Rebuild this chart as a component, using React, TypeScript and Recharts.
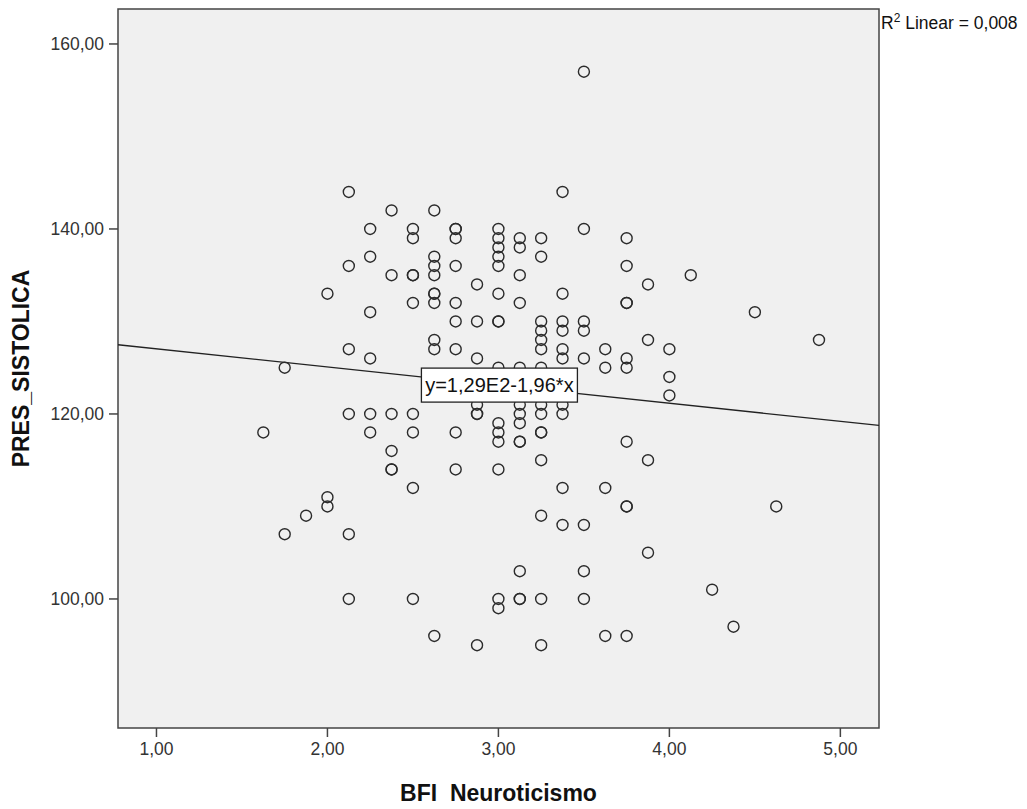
import React from "react";
import {
  ScatterChart,
  Scatter,
  XAxis,
  YAxis,
  ReferenceArea,
  ReferenceLine,
  ReferenceDot,
  Label,
} from "recharts";

// BFI neuroticism score for each respondent
const neuroticismo: number[] = [
  1.625,
  1.75, 1.75,
  1.875,
  2.0, 2.0, 2.0,
  2.125, 2.125, 2.125, 2.125, 2.125, 2.125,
  2.25, 2.25, 2.25, 2.25, 2.25, 2.25,
  2.375, 2.375, 2.375, 2.375, 2.375, 2.375,
  2.5, 2.5, 2.5, 2.5, 2.5, 2.5, 2.5, 2.5, 2.5,
  2.625, 2.625, 2.625, 2.625, 2.625, 2.625, 2.625, 2.625, 2.625, 2.625,
  2.75, 2.75, 2.75, 2.75, 2.75, 2.75, 2.75, 2.75, 2.75,
  2.875, 2.875, 2.875, 2.875, 2.875, 2.875, 2.875,
  3.0, 3.0, 3.0, 3.0, 3.0, 3.0, 3.0, 3.0, 3.0, 3.0, 3.0, 3.0, 3.0, 3.0, 3.0,
  3.125, 3.125, 3.125, 3.125, 3.125, 3.125, 3.125, 3.125, 3.125, 3.125, 3.125, 3.125, 3.125,
  3.25, 3.25, 3.25, 3.25, 3.25, 3.25, 3.25, 3.25, 3.25, 3.25, 3.25, 3.25, 3.25, 3.25, 3.25,
  3.375, 3.375, 3.375, 3.375, 3.375, 3.375, 3.375, 3.375, 3.375, 3.375,
  3.5, 3.5, 3.5, 3.5, 3.5, 3.5, 3.5, 3.5,
  3.625, 3.625, 3.625, 3.625,
  3.75, 3.75, 3.75, 3.75, 3.75, 3.75, 3.75, 3.75, 3.75, 3.75,
  3.875, 3.875, 3.875, 3.875,
  4.0, 4.0, 4.0,
  4.125,
  4.25,
  4.375,
  4.5,
  4.625,
  4.875,
];

// Systolic pressure, paired with the scores above
const presSistolica: number[] = [
  118,
  125, 107,
  109,
  133, 111, 110,
  144, 136, 127, 120, 107, 100,
  140, 137, 131, 126, 120, 118,
  142, 135, 120, 116, 114, 114,
  140, 139, 135, 135, 132, 120, 118, 112, 100,
  142, 137, 136, 135, 133, 133, 132, 128, 127, 96,
  140, 140, 139, 136, 132, 130, 127, 118, 114,
  134, 130, 126, 121, 120, 120, 95,
  140, 139, 138, 137, 136, 133, 130, 130, 125, 119, 118, 117, 114, 100, 99,
  139, 138, 135, 132, 125, 121, 120, 119, 117, 117, 103, 100, 100,
  139, 137, 130, 129, 128, 127, 125, 121, 120, 118, 118, 115, 109, 100, 95,
  144, 133, 130, 129, 127, 126, 121, 120, 112, 108,
  157, 140, 130, 129, 126, 108, 103, 100,
  127, 125, 112, 96,
  139, 136, 132, 132, 126, 125, 117, 110, 110, 96,
  134, 128, 115, 105,
  127, 124, 122,
  135,
  101,
  97,
  131,
  110,
  128,
];

const xTicks = [1, 2, 3, 4, 5];
const yTicks = [100, 120, 140, 160];
const xDomain: [number, number] = [0.775, 5.226];
const yDomain: [number, number] = [86.05, 163.78];

// Fitted linear model, as printed on the chart
const fitIntercept = 129;
const fitSlope = -1.96;
const fitLabel = "y=1,29E2-1,96*x";
const fitLabelAt = 3;
const rSquaredText = " Linear = 0,008";

const points = neuroticismo.map((x, i) => ({ x, y: presSistolica[i] }));
const fitY = (x: number) => fitIntercept + fitSlope * x;

const FONT = "'Liberation Sans', Arial, sans-serif";
const fmt = (v: number) => v.toFixed(2).replace(".", ",");

const OpenCircle = (props: any) => {
  const { cx, cy } = props;
  if (cx == null || cy == null) return null;
  return (
    <circle cx={cx} cy={cy} r={5.5} fill="none" stroke="#2b2b2b" strokeWidth={1.4} />
  );
};

const FitLabelBox = (props: any) => {
  const { cx, cy } = props;
  if (cx == null || cy == null) return null;
  const w = 156;
  const h = 34;
  return (
    <g>
      <rect x={cx - w / 2 + 1} y={cy - h / 2} width={w} height={h} fill="#ffffff" stroke="#222" strokeWidth={1.3} />
      <text
        x={cx + 1}
        y={cy + 7}
        textAnchor="middle"
        fontFamily={FONT}
        fontSize={20}
        fill="#111"
      >
        {fitLabel}
      </text>
    </g>
  );
};

export default function App() {
  return (
    <div style={{ position: "relative", width: 1027, height: 809, margin: -8, background: "#fff" }}>
      <ScatterChart
        width={1027}
        height={809}
        margin={{ top: 9, right: 148, bottom: 21, left: 18 }}
      >
        <XAxis
          type="number"
          dataKey="x"
          domain={xDomain}
          ticks={xTicks}
          allowDataOverflow
          tickFormatter={fmt}
          axisLine={false}
          tickSize={9}
          tickMargin={6}
          tickLine={{ stroke: "#444", strokeWidth: 1.5 }}
          tick={{ fill: "#333", fontSize: 17.5, fontFamily: FONT }}
          height={60}
        >
          <Label
            content={(p: any) => {
              const vb = p.viewBox || {};
              return (
                <text
                  x={vb.x + vb.width / 2}
                  y={801}
                  textAnchor="middle"
                  fontFamily={FONT}
                  fontWeight="bold"
                  fontSize={23}
                  fill="#111"
                >
                  BFI_Neuroticismo
                </text>
              );
            }}
          />
        </XAxis>
        <YAxis
          type="number"
          dataKey="y"
          domain={yDomain}
          ticks={yTicks}
          allowDataOverflow
          tickFormatter={fmt}
          axisLine={false}
          tickSize={9}
          tickMargin={5}
          tickLine={{ stroke: "#444", strokeWidth: 1.5 }}
          tick={{ fill: "#333", fontSize: 17.5, fontFamily: FONT }}
          width={100}
        >
          <Label
            content={(p: any) => {
              const vb = p.viewBox || {};
              const cy = vb.y + vb.height / 2;
              return (
                <text
                  x={29}
                  y={cy}
                  transform={`rotate(-90 29 ${cy})`}
                  textAnchor="middle"
                  fontFamily={FONT}
                  fontWeight="bold"
                  fontSize={23}
                  fill="#111"
                >
                  PRES_SISTOLICA
                </text>
              );
            }}
          />
        </YAxis>
        <ReferenceArea
          x1={xDomain[0]}
          x2={xDomain[1]}
          y1={yDomain[0]}
          y2={yDomain[1]}
          fill="#f0f0f0"
          fillOpacity={1}
          stroke="#444"
          strokeWidth={1.5}
          ifOverflow="visible"
        />
        <ReferenceLine
          segment={[
            { x: xDomain[0], y: fitY(xDomain[0]) },
            { x: xDomain[1], y: fitY(xDomain[1]) },
          ]}
          stroke="#222"
          strokeWidth={1.3}
          ifOverflow="visible"
        />
        <Scatter data={points} shape={OpenCircle} isAnimationActive={false} />
        <ReferenceDot
          x={fitLabelAt}
          y={fitY(fitLabelAt)}
          shape={FitLabelBox}
          ifOverflow="visible"
        />
      </ScatterChart>
      <svg
        width={160}
        height={40}
        style={{ position: "absolute", left: 876, top: 0, overflow: "visible" }}
      >
        <text x={5} y={28.5} fontFamily={FONT} fontSize={17.5} fill="#111">
          R
          <tspan dy={-7} fontSize={12}>2</tspan>
          <tspan dy={7}>{rSquaredText}</tspan>
        </text>
      </svg>
    </div>
  );
}
